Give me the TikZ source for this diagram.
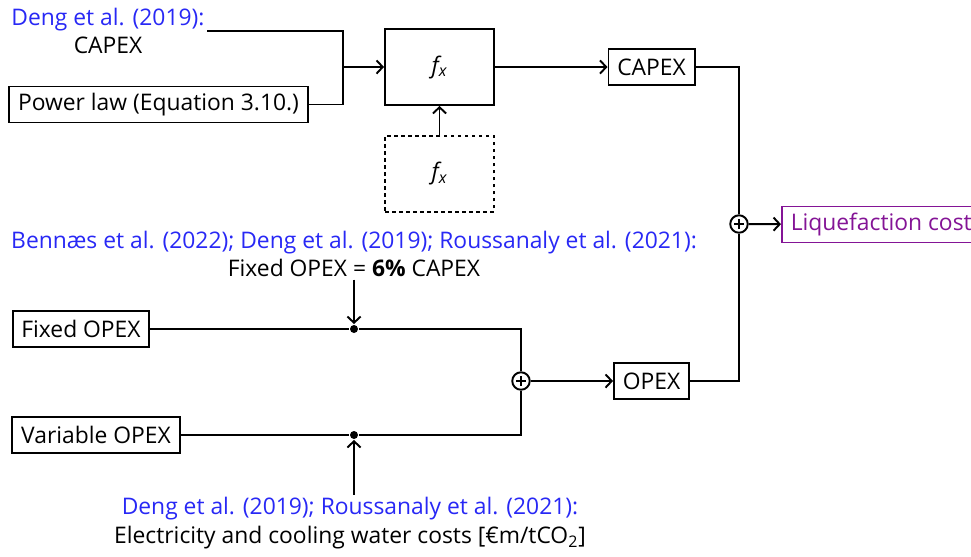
\documentclass[tikz,border=0pt]{standalone}
\usepackage{fontspec}
\setmainfont{Open Sans}
\usepackage{xcolor}
\usetikzlibrary{arrows.meta,positioning}
\definecolor{citeblue}{RGB}{40,40,245}
\definecolor{liqpurple}{RGB}{132,20,150}

\begin{document}
\begin{tikzpicture}[
  x=0.02cm, y=-0.02cm,
  font=\fontsize{13}{16}\selectfont,
  line width=1.1pt,
  >={Straight Barb[length=3.5pt,width=7.5pt]},
  box/.style={draw,minimum height=0.72cm,inner xsep=5pt},
  fbox/.style={draw,minimum width=2.18cm,minimum height=1.52cm},
  sum/.style={circle,draw,inner sep=0pt,minimum size=0.35cm,
    path picture={\draw[line width=0.8pt] (path picture bounding box.center) ++(-0.1cm,0) -- ++(0.2cm,0)
      (path picture bounding box.center) ++(0,-0.1cm) -- ++(0,0.2cm);}},
  jdot/.style={circle,fill,inner sep=0pt,minimum size=0.16cm},
  note/.style={align=center,inner sep=1pt}
]
  \useasboundingbox (0,0) rectangle (971,556);
  % CAPEX branch
  \node[note] (capref) at (108,31) {\textcolor{citeblue}{Deng et al. (2019):}\\CAPEX};
  \node[box] (power) at (158.5,104.5) {Power law (Equation 3.10.)};
  \node[fbox] (fx) at (439.5,67) {\itshape f\textsubscript{x}};
  \node[fbox,dash pattern=on 2pt off 2pt,below=0.58cm of fx] (fxd) {\itshape f\textsubscript{x}};
  \node[box] (capex) at (651.5,67) {CAPEX};
  \coordinate (join) at (343,67);
  \draw (capref) -| (join);
  \draw (power) -| (join);
  \draw[->] (join) -- (fx);
  \draw[->] (fxd) -- (fx);
  \draw[->] (fx) -- (capex);
  % total
  \node[sum] (sum1) at (739,224) {};
  \node[box,draw=liqpurple,text=liqpurple,anchor=west] (liq) at (781,224.5) {Liquefaction cost};
  % OPEX branch
  \node[note] (bennaes) at (354,254) {\textcolor{citeblue}{Bennæs et al. (2022); Deng et al. (2019); Roussanaly et al. (2021):}\\Fixed OPEX = \textbf{6\%} CAPEX};
  \node[box] (fixed) at (81,329) {Fixed OPEX};
  \node[box] (var) at (96,435) {Variable OPEX};
  \node[jdot] (d1) at (bennaes |- fixed) {};
  \node[jdot] (d2) at (bennaes |- var) {};
  \node[sum] (sum2) at (521,381) {};
  \node[box] (opex) at (651.5,381) {OPEX};
  \node[note] (varref) at (350,523) {\textcolor{citeblue}{Deng et al. (2019); Roussanaly et al. (2021):}\\Electricity and cooling water costs [€m/tCO\textsubscript{2}]};
  \draw (fixed) -- (d1) -| (sum2);
  \draw (var) -- (d2) -| (sum2);
  \draw[->] (bennaes) -- (d1);
  \draw[->] (d2 |- varref.north) -- (d2);
  \draw[->] (sum2) -- (opex);
  \draw (capex) -| (sum1);
  \draw (opex) -| (sum1);
  \draw[->] (sum1) -- (liq);
\end{tikzpicture}
\end{document}
